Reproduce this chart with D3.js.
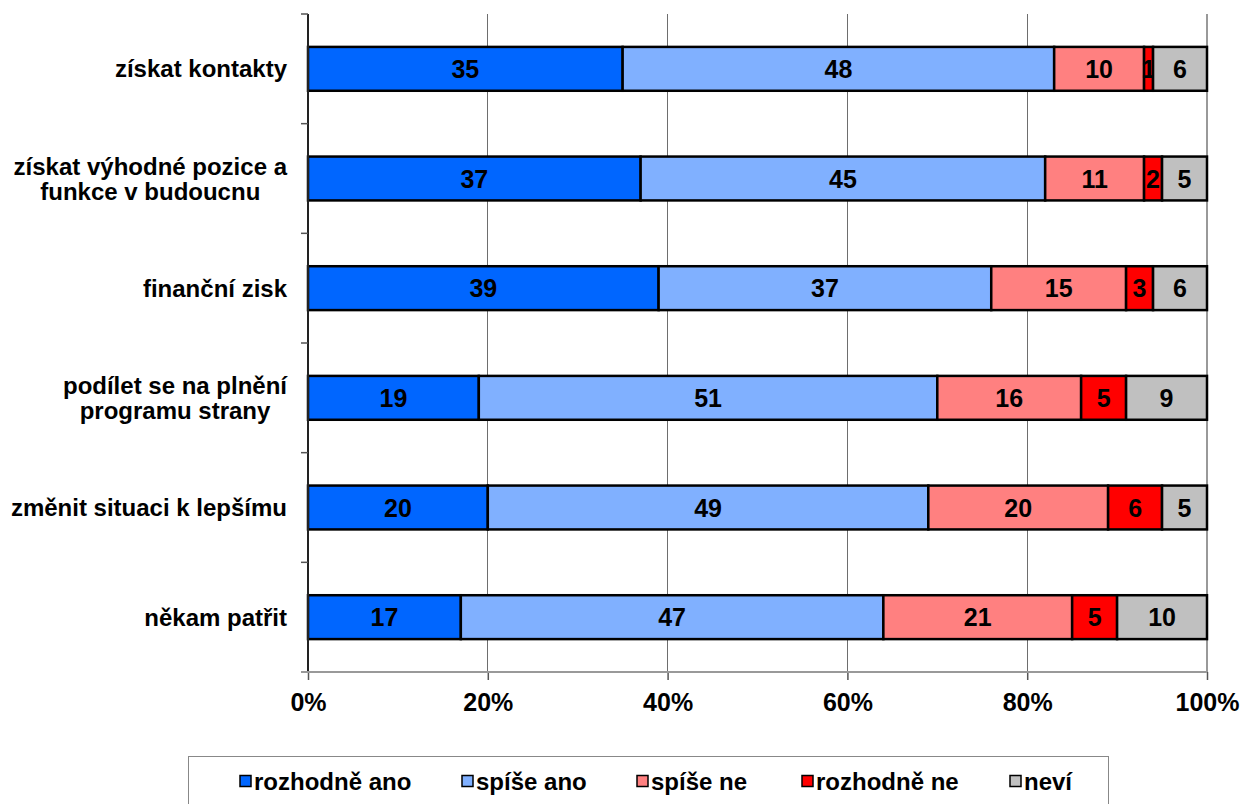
<!DOCTYPE html>
<html>
<head>
<meta charset="utf-8">
<script src="https://cdn.jsdelivr.net/npm/d3@7"></script>
<style>
  html, body { margin: 0; padding: 0; background: #fff; }
  svg { display: block; font-family: "Liberation Sans", Arial, sans-serif; font-weight: bold; }
</style>
</head>
<body>
<svg id="chart" width="1243" height="804"></svg>
<script>
const categories = ["získat kontakty", "získat výhodné pozice a funkce v budoucnu", "finanční zisk", "podílet se na plnění programu strany", "změnit situaci k lepšímu", "někam patřit"];
const categoryLines = [["získat kontakty"], ["získat výhodné pozice a", "funkce v budoucnu"], ["finanční zisk"], ["podílet se na plnění", "programu strany"], ["změnit situaci k lepšímu"], ["někam patřit"]];
const seriesNames = ["rozhodně ano", "spíše ano", "spíše ne", "rozhodně ne", "neví"];
const rozhodneAno = [35, 37, 39, 19, 20, 17];
const spiseAno = [48, 45, 37, 51, 49, 47];
const spiseNe = [10, 11, 15, 16, 20, 21];
const rozhodneNe = [1, 2, 3, 5, 6, 5];
const nevi = [6, 5, 6, 9, 5, 10];
const tickValues = [0, 20, 40, 60, 80, 100];
const tickLabels = ["0%", "20%", "40%", "60%", "80%", "100%"];
const colors = ["#0066FF", "#80B0FF", "#FF8080", "#FF0000", "#C0C0C0"];

(function () {
const seriesValues = [rozhodneAno, spiseAno, spiseNe, rozhodneNe, nevi];
const table = categories.map((c, i) => {
  const row = { cat: c };
  seriesNames.forEach((s, j) => row[s] = seriesValues[j][i]);
  return row;
});

const svg = d3.select("#chart");
const pLeft = 308, pRight = 1207, pTop = 14, pBottom = 672;

const x = d3.scaleLinear().domain([0, 100]).range([pLeft, pRight]);
const y = d3.scaleBand().domain(categories).range([pTop, pBottom]).paddingInner(0.6).paddingOuter(0.3);

// gridlines
svg.append("g").selectAll("line").data([20, 40, 60, 80]).join("line")
  .attr("x1", d => x(d)).attr("x2", d => x(d))
  .attr("y1", pTop).attr("y2", pBottom)
  .attr("stroke", "#6e6e6e").attr("stroke-width", 1).attr("shape-rendering", "crispEdges");
svg.append("line").attr("x1", x(100)).attr("x2", x(100)).attr("y1", pTop).attr("y2", pBottom)
  .attr("stroke", "#999").attr("stroke-width", 2);

// bars
const stack = d3.stack().keys(seriesNames)(table);
const layers = svg.append("g").selectAll("g").data(stack).join("g")
  .attr("fill", (d, i) => colors[i]);
layers.selectAll("rect").data(d => d).join("rect")
  .attr("x", d => x(d[0]))
  .attr("y", d => y(d.data.cat))
  .attr("width", d => x(d[1]) - x(d[0]))
  .attr("height", y.bandwidth())
  .attr("stroke", "#000").attr("stroke-width", 2.5);

// bar labels
layers.selectAll("text").data(d => d.map(v => ({ v, key: d.key }))).join("text")
  .attr("x", d => (x(d.v[0]) + x(d.v[1])) / 2)
  .attr("y", d => y(d.v.data.cat) + y.bandwidth() / 2)
  .attr("dy", "0.36em")
  .attr("text-anchor", "middle")
  .attr("fill", "#000")
  .attr("font-size", 25)
  .text(d => d.v.data[d.key]);

// left axis
const yBounds = d3.range(categories.length + 1).map(i => pTop + i * y.step());
svg.append("line").attr("x1", pLeft).attr("x2", pLeft).attr("y1", pTop).attr("y2", pBottom)
  .attr("stroke", "#222").attr("stroke-width", 2);
svg.append("g").selectAll("line").data(yBounds).join("line")
  .attr("x1", pLeft - 7).attr("x2", pLeft).attr("y1", d => d).attr("y2", d => d)
  .attr("stroke", "#555").attr("stroke-width", 1.5);

// category labels: block right-aligned, lines centred within block
const labelRight = 287;
const catG = svg.append("g").selectAll("text").data(categories).join("text")
  .attr("text-anchor", "middle").attr("font-size", 24).attr("fill", "#000")
  .attr("transform", d => `translate(0, ${y(d) + y.bandwidth() / 2})`);
catG.each(function(d, i) {
  const lines = categoryLines[i];
  const n = lines.length;
  const t = d3.select(this);
  const spans = t.selectAll("tspan").data(lines).join("tspan")
    .attr("y", (l, k) => (k - (n - 1) / 2) * 25)
    .attr("dy", "0.36em")
    .text(l => l);
  let maxW = 0;
  spans.each(function() { maxW = Math.max(maxW, this.getComputedTextLength()); });
  spans.attr("x", labelRight - maxW / 2);
});

// bottom axis
const xAxis = d3.axisBottom(x).tickValues(tickValues).tickSize(8).tickFormat((d, i) => tickLabels[i]);
const ax = svg.append("g").attr("transform", `translate(0, ${pBottom})`).call(xAxis);
ax.select(".domain").remove();
ax.append("line").attr("x1", pLeft - 7).attr("x2", pRight).attr("y1", 0).attr("y2", 0)
  .attr("stroke", "#999").attr("stroke-width", 2);
ax.selectAll(".tick line").attr("stroke", "#555").attr("stroke-width", 1.5);
ax.selectAll(".tick text").attr("font-size", 25).attr("font-family", "Liberation Sans, Arial, sans-serif")
  .attr("font-weight", "bold").attr("fill", "#000").attr("y", 21).attr("dy", "0.71em");

// legend
svg.append("rect").attr("x", 188.5).attr("y", 756.5).attr("width", 920).attr("height", 60)
  .attr("fill", "#fff").attr("stroke", "#888").attr("stroke-width", 1);
const legendX = [240, 462, 637, 802, 1010];
const lg = svg.append("g").selectAll("g").data(seriesNames).join("g")
  .attr("transform", (d, i) => `translate(${legendX[i]}, 781)`);
lg.append("rect").attr("x", 0).attr("y", -5.5).attr("width", 11).attr("height", 11)
  .attr("fill", (d, i) => colors[i]).attr("stroke", "#000").attr("stroke-width", 1.5);
lg.append("text").attr("x", 14).attr("dy", "0.36em").attr("font-size", 24).attr("fill", "#000")
  .text(d => d);
})();
</script>
</body>
</html>
